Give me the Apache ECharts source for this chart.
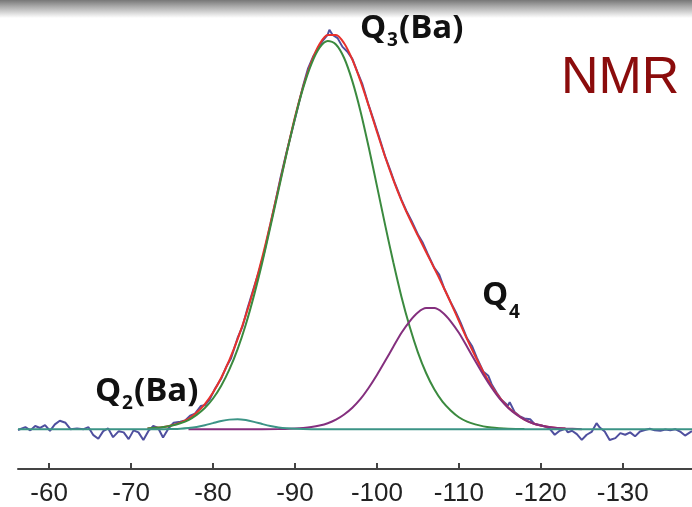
<!DOCTYPE html>
<html><head><meta charset="utf-8">
<script src="https://cdn.jsdelivr.net/npm/echarts@6/dist/echarts.min.js"></script>
<style>html,body{margin:0;padding:0;background:#fff}#c{width:692px;height:507px}</style>
</head><body><div id="c"></div>
<script>
// x axis ticks (ppm)
const tickValues = [-60,-70,-80,-90,-100,-110,-120,-130];

// fit grid (ppm)
const fitPpm = [-72,-73,-74,-75,-76,-77,-78,-79,-80,-81,-82,-83,-84,-85,-86,-87,-88,-89,-90,-91,-92,-93,-94,-95,-96,-97,-98,-99,-100,-101,-102,-103,-104,-105,-106,-107,-108,-109,-110,-111,-112,-113,-114,-115,-116,-117,-118,-119,-120,-121,-122,-123];
// red: total fit
const fitTotal = [0.2,0.34,0.57,1.0,1.63,2.6,4.17,6.3,9.2,12.9,17.4,22.6,28.6,35.4,43.1,51.6,60.6,69.6,78.4,86.0,92.2,96.7,99.0,99.0,96.9,92.8,87.4,81.2,74.7,68.4,62.6,57.4,52.8,48.6,44.5,40.4,36.2,31.8,27.2,22.6,18.3,14.3,10.8,7.84,5.5,3.8,2.4,1.5,0.92,0.54,0.3,0.16];
// green: Q3(Ba)
const q3Ppm = [-72,-73,-74,-75,-76,-77,-78,-79,-80,-81,-82,-83,-84,-85,-86,-87,-88,-89,-90,-91,-92,-93,-94,-95,-96,-97,-98,-99,-100,-101,-102,-103,-104,-105,-106,-107,-108,-109,-110,-111,-112,-113,-114,-115,-116,-117,-118];
const q3Vals = [0.2,0.34,0.57,0.94,1.5,2.3,3.6,5.3,7.7,10.9,15.0,20.1,26.3,33.6,41.8,50.8,60.1,69.4,78.1,85.7,91.7,95.8,97.5,96.6,93.2,87.4,79.8,70.8,61.1,51.3,41.9,33.2,25.7,19.3,14.1,10.0,6.9,4.7,3.0,1.9,1.2,0.7,0.4,0.24,0.13,0.07,0.03];
// purple: Q4
const q4Ppm = [-77,-80,-84,-88,-90,-91,-92,-93,-94,-95,-96,-97,-98,-99,-100,-101,-102,-103,-104,-105,-106,-107,-108,-109,-110,-111,-112,-113,-114,-115,-116,-117,-118,-119,-120,-121,-122,-123,-125];
const q4Vals = [0,0,0,0.02,0.16,0.3,0.54,0.92,1.5,2.4,3.7,5.4,7.6,10.4,13.6,17.1,20.7,24.2,27.1,29.3,30.4,30.4,29.3,27.1,24.2,20.7,17.1,13.6,10.4,7.6,5.4,3.7,2.4,1.5,0.92,0.54,0.3,0.16,0];
// teal: Q2(Ba) + baseline
const q2Ppm = [-56.2,-74,-75,-76,-77,-78,-79,-80,-81,-82,-83,-84,-85,-86,-87,-88,-89,-90,-91,-92,-138.45];
const q2Vals = [0,0,0.05,0.13,0.3,0.57,1.0,1.52,2.03,2.4,2.5,2.28,1.84,1.3,0.81,0.45,0.22,0.09,0.03,0,0];
// blue: experimental spectrum
const expPpm = [-56.2,-57.1,-57.7,-58.3,-58.9,-59.5,-60.1,-60.7,-61.3,-62.0,-62.6,-63.4,-64.2,-64.8,-65.4,-66.0,-66.6,-67.2,-67.8,-68.5,-69.1,-69.7,-70.3,-70.9,-71.5,-72.1,-72.7,-73.3,-73.9,-74.6,
 -75.2,-76,-76.6,-77.2,-77.8,-78.5,-79,-79.6,-80.2,-81,-81.6,-82.2,-83,-83.6,-84.2,-85,-85.6,-86.2,-87,-87.6,-88.2,-89,-89.6,-90.2,-91,-91.6,-92.2,-92.8,-93.4,-94.0,-94.2,-94.6,-95.2,-95.8,-96.4,-97,-97.6,-98.2,-99,-99.6,-100.2,-101,-101.6,-102.2,-103,-103.6,-104.2,-105,-105.6,-106.2,-107,-107.6,-108.2,-109,-109.6,-110.2,-111,-111.6,-112.2,-113,-113.6,-114.0,-114.6,-115.2,-116,-116.2,-116.8,-117.4,-118,-118.7,-119.2,-120,-120.6,-121.1,
 -121.7,-122.3,-123.0,-123.3,-123.8,-124.4,-125.0,-125.6,-126.2,-126.8,-127.2,-127.8,-128.4,-129.1,-129.7,-130.3,-130.9,-131.5,-132.1,-132.7,-133.3,-133.9,-134.6,-135.2,-135.8,-136.4,-137.0,-137.6,-138.2,-138.45];
const expVals = [-0.2,0.5,-0.3,0.8,0.3,1.0,-0.4,1.2,2.1,1.6,0.0,0.2,0.0,0.5,-1.5,-2.4,-0.5,0.2,-2.0,-0.5,-0.8,-2.5,-0.3,-0.8,-2.7,-0.5,0.8,0.3,-2.1,0.3,
 1.6,1.9,2.2,3.4,3.9,5.8,6.0,7.5,10.0,12.7,15.6,17.8,22.9,25.8,30.3,35.6,39.6,44.0,51.4,57.0,62.8,69.8,74.6,79.6,86.3,90.6,93.5,95.6,97.6,99.1,100.3,99.0,98.2,96.0,94.8,93.0,89.8,86.8,81.3,77.6,73.8,68.5,65.2,61.7,57.6,54.8,52.4,48.9,46.8,44.0,40.5,38.8,35.4,31.9,29.5,26.8,22.8,20.9,17.9,14.4,13.4,11.3,9.2,7.4,5.9,6.8,4.3,3.3,2.7,2.5,1.4,1.0,0.6,0.1,
 -1.4,-0.4,0.1,-0.8,-0.4,-1.25,-2.7,-1.4,-0.7,1.5,0.4,-0.6,-2.7,-2.25,-1.0,-1.4,-0.8,-1.8,-0.6,-0.2,0.1,-0.3,-0.4,-0.1,-0.3,0.0,-0.6,-1.6,-0.8,-0.5];

const zip = (xs, ys) => xs.map((x, i) => [x, ys[i]]);

const chart = echarts.init(document.getElementById('c'), null, {renderer: 'canvas'});
const lineBase = {type: 'line', showSymbol: false, symbol: 'none', animation: false, silent: true};
const qFont = 'bold 33px "Open Sans", sans-serif';
const subFont = 'bold 19px "Open Sans", sans-serif';
chart.setOption({
  animation: false,
  backgroundColor: '#fff',
  grid: {left: 18, right: 0, top: 20, bottom: 36, containLabel: false},
  xAxis: {
    type: 'value', inverse: true, min: -138.45, max: -56.2,
    axisLine: {show: true, onZero: false, lineStyle: {color: '#444', width: 2}},
    axisTick: {show: true, inside: true, length: 6, lineStyle: {color: '#444', width: 2}, customValues: tickValues},
    axisLabel: {show: true, margin: 12, fontSize: 26, fontFamily: 'Liberation Sans, Arial, sans-serif', color: '#222', customValues: tickValues,
      formatter: v => String(v)},
    splitLine: {show: false}
  },
  yAxis: {type: 'value', min: -10, max: 102.75, show: false, splitLine: {show: false}},
  series: [
    Object.assign({}, lineBase, {name: 'exp', data: zip(expPpm, expVals), lineStyle: {color: '#4f4f9f', width: 2}, z: 1}),
    Object.assign({}, lineBase, {name: 'fit', data: zip(fitPpm, fitTotal), smooth: 0.3, lineStyle: {color: '#e8312c', width: 2}, z: 2}),
    Object.assign({}, lineBase, {name: 'Q3', data: zip(q3Ppm, q3Vals), smooth: 0.3, lineStyle: {color: '#3b8a3f', width: 2}, z: 3}),
    Object.assign({}, lineBase, {name: 'Q4', data: zip(q4Ppm, q4Vals), smooth: 0.3, lineStyle: {color: '#842f7e', width: 2}, z: 4}),
    Object.assign({}, lineBase, {name: 'Q2', data: zip(q2Ppm, q2Vals), smooth: 0.3, lineStyle: {color: '#3c9486', width: 2}, z: 5})
  ],
  graphic: [
    {type: 'rect', left: 0, top: 0, z: 100, shape: {width: 692, height: 18},
      style: {fill: new echarts.graphic.LinearGradient(0, 0, 0, 1, [
        {offset: 0, color: '#777'}, {offset: 0.35, color: '#a9a9a9'}, {offset: 1, color: '#ffffff'}])}},
    {type: 'text', z: 100, style: {text: 'NMR', x: 561, y: 79, fill: '#8b0c0c', font: '52px "Liberation Sans", Arial, sans-serif', verticalAlign: 'middle'}},
    {type: 'text', z: 100, style: {text: 'Q', x: 360, y: 29, fill: '#111', font: qFont, verticalAlign: 'middle'}},
    {type: 'text', z: 100, style: {text: '3', x: 387, y: 41, fill: '#111', font: subFont, verticalAlign: 'middle'}},
    {type: 'text', z: 100, style: {text: '(Ba)', x: 399, y: 29, fill: '#111', font: qFont, verticalAlign: 'middle'}},
    {type: 'text', z: 100, style: {text: 'Q', x: 482, y: 296, fill: '#111', font: qFont, verticalAlign: 'middle'}},
    {type: 'text', z: 100, style: {text: '4', x: 509, y: 313, fill: '#111', font: subFont, verticalAlign: 'middle'}},
    {type: 'text', z: 100, style: {text: 'Q', x: 95, y: 392, fill: '#111', font: qFont, verticalAlign: 'middle'}},
    {type: 'text', z: 100, style: {text: '2', x: 122, y: 404, fill: '#111', font: subFont, verticalAlign: 'middle'}},
    {type: 'text', z: 100, style: {text: '(Ba)', x: 134, y: 392, fill: '#111', font: qFont, verticalAlign: 'middle'}}
  ]
});
</script></body></html>
